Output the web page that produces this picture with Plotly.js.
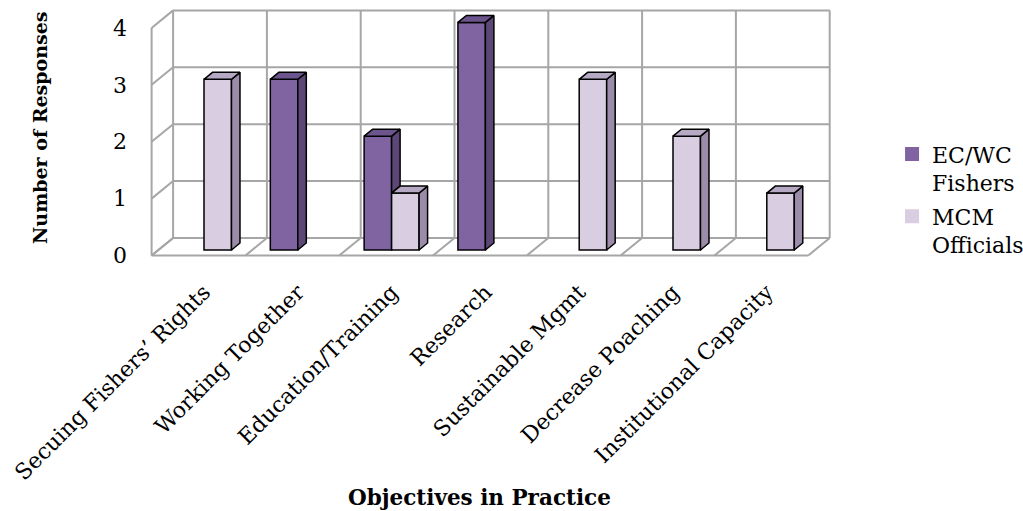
<!DOCTYPE html>
<html>
<head>
<meta charset="utf-8">
<script src="https://cdn.plot.ly/plotly-3.0.1.min.js"></script>
<style>
  html, body { margin: 0; padding: 0; background: #fff; }
  #chart { width: 1023px; height: 511px; }
</style>
</head>
<body>
<div id="chart"></div>
<script>
// Objectives named in practice, by respondent group
const categories = [
  "Secuing Fishers’ Rights",
  "Working Together",
  "Education/Training",
  "Research",
  "Sustainable Mgmt",
  "Decrease Poaching",
  "Institutional Capacity"
];
const fishers = [0, 3, 2, 4, 0, 0, 0];     // EC/WC Fishers
const officials = [3, 0, 1, 0, 3, 2, 1];   // MCM Officials
const yTicks = [0, 1, 2, 3, 4];
const seriesNames = ["EC/WC<br>Fishers", "MCM<br>Officials"];

// Styling / pseudo-3D geometry (in axis units)
const FONT = "DejaVu Serif, Cambria, serif";
const BW = 0.293;          // bar width
const DX = 0.0906, DY = 0.123;   // bar depth offset
const BACK = {dx: 0.1706, dy: 0.211};   // back wall relative to bar plane
const FRONT = {dx: -0.0586, dy: -0.097}; // front floor edge relative to bar plane
const GRID = "#a6a6a6";
const colors = {
  dark:  {front: "#8064a2", side: "#5c4777", top: "#6c548d"},
  light: {front: "#d9cde2", side: "#9b8daa", top: "#b6a9c4"}
};

const n = categories.length;
const idx = categories.map((_, i) => i);
const nz = arr => arr.map(v => (v ? v : null));

// Walls and floor
const shapes = [];
const line = (x0, y0, x1, y1) => shapes.push({
  type: "line", xref: "x", yref: "y", x0, y0, x1, y1, layer: "below",
  line: {color: GRID, width: 2}
});
const xL = -0.5, xR = n - 0.5;
const topV = yTicks[yTicks.length - 1];
yTicks.forEach(v => {
  line(xL + BACK.dx, v + BACK.dy, xR + BACK.dx, v + BACK.dy);          // back wall
  line(xL + BACK.dx, v + BACK.dy, xL + FRONT.dx, v + FRONT.dy);        // left wall
});
for (let b = 0; b <= n; b++) {
  const xb = xL + b;
  line(xb + BACK.dx, BACK.dy, xb + BACK.dx, topV + BACK.dy);           // back wall verticals
  line(xb + BACK.dx, BACK.dy, xb + FRONT.dx, FRONT.dy);                // floor dividers
}
line(xL + FRONT.dx, FRONT.dy, xR + FRONT.dx, FRONT.dy);                // floor front edge
line(xL + FRONT.dx, FRONT.dy, xL + FRONT.dx, topV + FRONT.dy);         // left wall front edge

// Side and top faces of each bar
function faces(values, offset, clipBelow) {
  const side = {x: [], y: []}, top = {x: [], y: []};
  values.forEach((v, i) => {
    if (!v) return;
    const xl = i + offset, xr = xl + BW;
    const lo = Math.min(clipBelow ? (clipBelow[i] || 0) : 0, v);
    side.x.push(xr, xr + DX, xr + DX, xr, xr, null);
    side.y.push(v, v + DY, lo + DY, lo, v, null);
    top.x.push(xl, xl + DX, xr + DX, xr, xl, null);
    top.y.push(v, v + DY, v + DY, v, v, null);
  });
  return {side, top};
}
function faceTrace(pts, color) {
  return {
    type: "scatter", mode: "lines", x: pts.x, y: pts.y,
    fill: "toself", fillcolor: color, connectgaps: false,
    line: {color: "#000", width: 1.5}, showlegend: false, hoverinfo: "skip"
  };
}
const fF = faces(fishers, -BW, officials);
const fO = faces(officials, 0, null);

const barStyle = c => ({color: c, line: {color: "#000", width: 1.5}});
const data = [
  {type: "bar", x: idx, y: nz(fishers), width: BW, offset: -BW,
   marker: barStyle(colors.dark.front), showlegend: false, hoverinfo: "skip"},
  {type: "bar", x: idx, y: nz(officials), width: BW, offset: 0,
   marker: barStyle(colors.light.front), showlegend: false, hoverinfo: "skip"},
  faceTrace(fF.side, colors.dark.side),
  faceTrace(fF.top, colors.dark.top),
  faceTrace(fO.side, colors.light.side),
  faceTrace(fO.top, colors.light.top),
  // legend entries
  {type: "scatter", mode: "markers", x: [null], y: [null], name: seriesNames[0],
   legendgroup: "a", marker: {symbol: "square", size: 14, color: colors.dark.front}},
  {type: "scatter", mode: "markers", x: [null], y: [null], name: seriesNames[1],
   legendgroup: "b", marker: {symbol: "square", size: 14, color: colors.light.front}}
];

const layout = {
  width: 1023, height: 511,
  margin: {l: 140, r: 163, t: 2, b: 249, autoexpand: false},
  paper_bgcolor: "#fff", plot_bgcolor: "rgba(0,0,0,0)",
  font: {family: FONT, size: 21, color: "#000"},
  showlegend: true,
  hovermode: false,
  xaxis: {
    range: [-0.6823, 6.9936], fixedrange: true, automargin: false,
    showgrid: false, zeroline: false, showline: false,
    tickmode: "array", tickvals: idx, ticktext: categories,
    tickangle: -45, ticks: "", ticklabelstandoff: 12,
    tickfont: {family: FONT, size: 22, color: "#000"}
  },
  yaxis: {
    range: [-0.2109, 4.3585], fixedrange: true, automargin: false,
    showgrid: false, zeroline: false, showline: false,
    tickmode: "array", tickvals: yTicks.map(v => v + FRONT.dy),
    ticktext: yTicks.map(String), ticks: "", ticklabelstandoff: 12,
    tickfont: {family: FONT, size: 22, color: "#000"}
  },
  shapes,
  annotations: [
    {text: "<b>Objectives in Practice</b>", xref: "paper", yref: "paper",
     x: 0.472, y: -0.904, xanchor: "center", yanchor: "middle", showarrow: false,
     font: {family: FONT, size: 21.5, color: "#000"}},
    {text: "<b>Number of Responses</b>", xref: "paper", yref: "paper",
     x: -0.1389, y: 0.519, xanchor: "center", yanchor: "middle", showarrow: false,
     textangle: -90, font: {family: FONT, size: 19, color: "#000"}}
  ],
  legend: {
    x: 1.0445, xanchor: "left", y: 0.495, yanchor: "top",
    traceorder: "grouped", tracegroupgap: 2, valign: "top",
    font: {family: FONT, size: 22, color: "#000"},
    itemwidth: 30, bgcolor: "rgba(0,0,0,0)"
  }
};

Plotly.newPlot("chart", data, layout, {staticPlot: true, displayModeBar: false});
</script>
</body>
</html>
